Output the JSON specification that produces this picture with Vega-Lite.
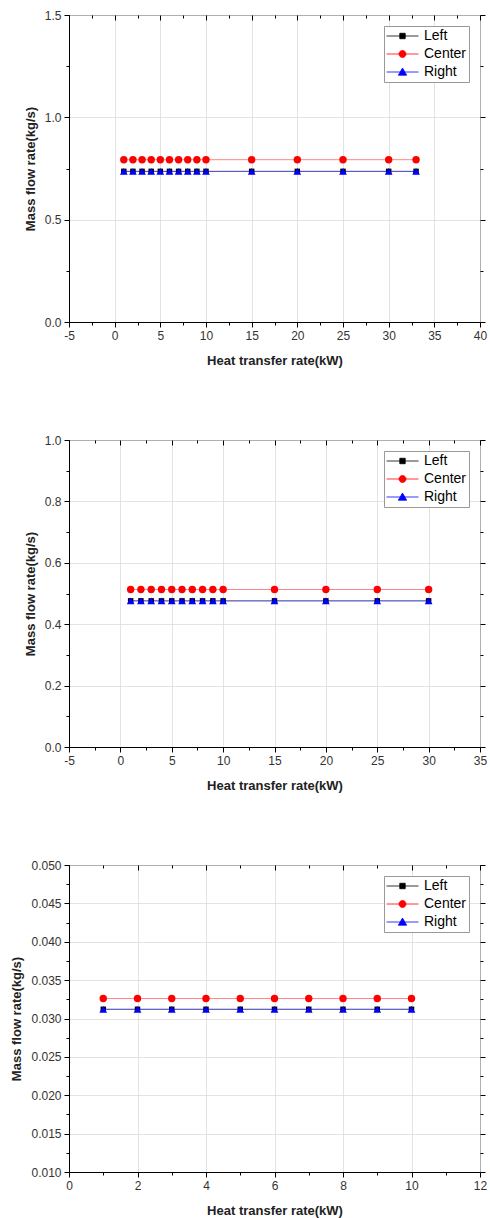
{
  "$schema": "https://vega.github.io/schema/vega-lite/v6.json",
  "background": "white",
  "padding": {"left": 10, "top": 8, "right": 8, "bottom": 0},
  "spacing": 65,
  "config": {
    "font": "Liberation Sans",
    "view": {"stroke": "black", "strokeWidth": 1},
    "axis": {
      "domainColor": "black", "tickColor": "black", "labelColor": "#333",
      "labelFontSize": 12, "titleFontSize": 13, "titleFontWeight": "bold", "titleColor": "#222",
      "gridColor": "#dcdcdc", "gridWidth": 0.8, "labelFont": "Liberation Sans", "titleFont": "Liberation Sans"
    },
    "axisX": {"labelPadding": 3, "titlePadding": 13, "labelFlush": false},
    "axisY": {"labelPadding": 3, "titlePadding": 7},
    "legend": {
      "orient": "top-right", "offset": 11, "strokeColor": "#999", "fillColor": "white", "padding": 2,
      "labelFontSize": 14, "labelColor": "black", "labelFont": "Liberation Sans",
      "symbolSize": 1024, "rowPadding": 2, "clipHeight": 16, "labelOffset": 5, "symbolStrokeWidth": 0.8, "title": null
    }
  },
  "resolve": {"scale": {"color": "independent", "x": "independent", "y": "independent"}, "legend": {"color": "independent"}},
  "vconcat": [
    {
      "width": 411, "height": 307,
      "data": {"values": [
        {"x": 1, "y": 0.736, "series": "Left"}, {"x": 2, "y": 0.736, "series": "Left"}, {"x": 3, "y": 0.736, "series": "Left"}, {"x": 4, "y": 0.736, "series": "Left"}, {"x": 5, "y": 0.736, "series": "Left"}, {"x": 6, "y": 0.736, "series": "Left"}, {"x": 7, "y": 0.736, "series": "Left"}, {"x": 8, "y": 0.736, "series": "Left"}, {"x": 9, "y": 0.736, "series": "Left"}, {"x": 10, "y": 0.736, "series": "Left"}, {"x": 15, "y": 0.736, "series": "Left"}, {"x": 20, "y": 0.736, "series": "Left"}, {"x": 25, "y": 0.736, "series": "Left"}, {"x": 30, "y": 0.736, "series": "Left"}, {"x": 33, "y": 0.736, "series": "Left"},
        {"x": 1, "y": 0.793, "series": "Center"}, {"x": 2, "y": 0.793, "series": "Center"}, {"x": 3, "y": 0.793, "series": "Center"}, {"x": 4, "y": 0.793, "series": "Center"}, {"x": 5, "y": 0.793, "series": "Center"}, {"x": 6, "y": 0.793, "series": "Center"}, {"x": 7, "y": 0.793, "series": "Center"}, {"x": 8, "y": 0.793, "series": "Center"}, {"x": 9, "y": 0.793, "series": "Center"}, {"x": 10, "y": 0.793, "series": "Center"}, {"x": 15, "y": 0.793, "series": "Center"}, {"x": 20, "y": 0.793, "series": "Center"}, {"x": 25, "y": 0.793, "series": "Center"}, {"x": 30, "y": 0.793, "series": "Center"}, {"x": 33, "y": 0.793, "series": "Center"},
        {"x": 1, "y": 0.736, "series": "Right"}, {"x": 2, "y": 0.736, "series": "Right"}, {"x": 3, "y": 0.736, "series": "Right"}, {"x": 4, "y": 0.736, "series": "Right"}, {"x": 5, "y": 0.736, "series": "Right"}, {"x": 6, "y": 0.736, "series": "Right"}, {"x": 7, "y": 0.736, "series": "Right"}, {"x": 8, "y": 0.736, "series": "Right"}, {"x": 9, "y": 0.736, "series": "Right"}, {"x": 10, "y": 0.736, "series": "Right"}, {"x": 15, "y": 0.736, "series": "Right"}, {"x": 20, "y": 0.736, "series": "Right"}, {"x": 25, "y": 0.736, "series": "Right"}, {"x": 30, "y": 0.736, "series": "Right"}, {"x": 33, "y": 0.736, "series": "Right"}
      ]},
      "resolve": {"axis": {"x": "independent", "y": "independent"}},
      "encoding": {
        "color": {"field": "series", "type": "nominal", "scale": {"domain": ["Left", "Center", "Right"], "range": ["#000000", "#ff0000", "#0000ff"]},
          "legend": {"title": null, "encoding": {"symbols": {
            "shape": {"value": {"expr": "datum.value === 'Left' ? 'M-1,0H1M-0.17,-0.17H0.17V0.17H-0.17Z' : datum.value === 'Center' ? 'M-1,0H1M-0.22,0A0.22,0.22,0,1,1,0.22,0A0.22,0.22,0,1,1,-0.22,0Z' : 'M-1,0H1M0,-0.25L0.26,0.2H-0.26Z'"}},
            "stroke": {"value": {"expr": "datum.value === 'Left' ? '#000000' : datum.value === 'Center' ? '#ff0000' : '#0000ff'"}},
            "fill": {"value": {"expr": "datum.value === 'Left' ? '#000000' : datum.value === 'Center' ? '#ff0000' : '#0000ff'"}},
            "strokeWidth": {"value": 0.8}, "opacity": {"value": 1}}}}}
      },
      "layer": [
        {"mark": {"type": "line", "strokeWidth": 0.6, "opacity": 0.8},
         "encoding": {
           "x": {"field": "x", "type": "quantitative", "title": "Heat transfer rate(kW)",
             "scale": {"domain": [-5, 40], "nice": false, "zero": false},
             "axis": {"values": [-5, -2.5, 0, 2.5, 5, 7.5, 10, 12.5, 15, 17.5, 20, 22.5, 25, 27.5, 30, 32.5, 35, 37.5, 40],
               "labelExpr": "datum.value % 5 === 0 ? '' + datum.value : ''",
               "tickSize": {"condition": {"test": "datum.value % 5 === 0", "value": 5}, "value": 3},
               "gridOpacity": {"condition": {"test": "datum.value % 5 === 0", "value": 1}, "value": 0}}},
           "y": {"field": "y", "type": "quantitative", "title": "Mass flow rate(kg/s)",
             "scale": {"domain": [0, 1.5], "nice": false},
             "axis": {"values": [0, 0.25, 0.5, 0.75, 1, 1.25, 1.5],
               "labelExpr": "round(datum.value*100) % 50 === 0 ? format(datum.value, '.1f') : ''",
               "tickSize": {"condition": {"test": "round(datum.value*100) % 50 === 0", "value": 5}, "value": 3},
               "gridOpacity": {"condition": {"test": "round(datum.value*100) % 50 === 0", "value": 1}, "value": 0}}}
         }},
        {"transform": [{"filter": "datum.series === 'Left'"}],
         "mark": {"type": "point", "filled": true, "shape": "square", "size": 30, "opacity": 1},
         "encoding": {
           "x": {"field": "x", "type": "quantitative",
             "scale": {"domain": [-5, 40], "nice": false, "zero": false},
             "axis": {"orient": "top", "title": null, "labels": false, "grid": false, "domain": false,
               "values": [-5, -2.5, 0, 2.5, 5, 7.5, 10, 12.5, 15, 17.5, 20, 22.5, 25, 27.5, 30, 32.5, 35, 37.5, 40],
               "tickSize": {"condition": {"test": "datum.value % 5 === 0", "value": -5}, "value": -3}}},
           "y": {"field": "y", "type": "quantitative",
             "scale": {"domain": [0, 1.5], "nice": false},
             "axis": {"orient": "right", "title": null, "labels": false, "grid": false, "domain": false,
               "values": [0, 0.25, 0.5, 0.75, 1, 1.25, 1.5],
               "tickSize": {"condition": {"test": "round(datum.value*100) % 50 === 0", "value": 5}, "value": 3}}}
         }},
        {"transform": [{"filter": "datum.series === 'Center'"}],
         "mark": {"type": "point", "filled": true, "shape": "circle", "size": 55, "opacity": 1},
         "encoding": {"x": {"field": "x", "type": "quantitative", "axis": null}, "y": {"field": "y", "type": "quantitative", "axis": null}}},
        {"transform": [{"filter": "datum.series === 'Right'"}],
         "mark": {"type": "point", "filled": true, "shape": "triangle-up", "size": 60, "opacity": 1},
         "encoding": {"x": {"field": "x", "type": "quantitative", "axis": null}, "y": {"field": "y", "type": "quantitative", "axis": null}}}
      ]
    },
    {
      "width": 411, "height": 307,
      "data": {"values": [
        {"x": 1, "y": 0.476, "series": "Left"}, {"x": 2, "y": 0.476, "series": "Left"}, {"x": 3, "y": 0.476, "series": "Left"}, {"x": 4, "y": 0.476, "series": "Left"}, {"x": 5, "y": 0.476, "series": "Left"}, {"x": 6, "y": 0.476, "series": "Left"}, {"x": 7, "y": 0.476, "series": "Left"}, {"x": 8, "y": 0.476, "series": "Left"}, {"x": 9, "y": 0.476, "series": "Left"}, {"x": 10, "y": 0.476, "series": "Left"}, {"x": 15, "y": 0.476, "series": "Left"}, {"x": 20, "y": 0.476, "series": "Left"}, {"x": 25, "y": 0.476, "series": "Left"}, {"x": 30, "y": 0.476, "series": "Left"},
        {"x": 1, "y": 0.513, "series": "Center"}, {"x": 2, "y": 0.513, "series": "Center"}, {"x": 3, "y": 0.513, "series": "Center"}, {"x": 4, "y": 0.513, "series": "Center"}, {"x": 5, "y": 0.513, "series": "Center"}, {"x": 6, "y": 0.513, "series": "Center"}, {"x": 7, "y": 0.513, "series": "Center"}, {"x": 8, "y": 0.513, "series": "Center"}, {"x": 9, "y": 0.513, "series": "Center"}, {"x": 10, "y": 0.513, "series": "Center"}, {"x": 15, "y": 0.513, "series": "Center"}, {"x": 20, "y": 0.513, "series": "Center"}, {"x": 25, "y": 0.513, "series": "Center"}, {"x": 30, "y": 0.513, "series": "Center"},
        {"x": 1, "y": 0.476, "series": "Right"}, {"x": 2, "y": 0.476, "series": "Right"}, {"x": 3, "y": 0.476, "series": "Right"}, {"x": 4, "y": 0.476, "series": "Right"}, {"x": 5, "y": 0.476, "series": "Right"}, {"x": 6, "y": 0.476, "series": "Right"}, {"x": 7, "y": 0.476, "series": "Right"}, {"x": 8, "y": 0.476, "series": "Right"}, {"x": 9, "y": 0.476, "series": "Right"}, {"x": 10, "y": 0.476, "series": "Right"}, {"x": 15, "y": 0.476, "series": "Right"}, {"x": 20, "y": 0.476, "series": "Right"}, {"x": 25, "y": 0.476, "series": "Right"}, {"x": 30, "y": 0.476, "series": "Right"}
      ]},
      "resolve": {"axis": {"x": "independent", "y": "independent"}},
      "encoding": {
        "color": {"field": "series", "type": "nominal", "scale": {"domain": ["Left", "Center", "Right"], "range": ["#000000", "#ff0000", "#0000ff"]},
          "legend": {"title": null, "encoding": {"symbols": {
            "shape": {"value": {"expr": "datum.value === 'Left' ? 'M-1,0H1M-0.17,-0.17H0.17V0.17H-0.17Z' : datum.value === 'Center' ? 'M-1,0H1M-0.22,0A0.22,0.22,0,1,1,0.22,0A0.22,0.22,0,1,1,-0.22,0Z' : 'M-1,0H1M0,-0.25L0.26,0.2H-0.26Z'"}},
            "stroke": {"value": {"expr": "datum.value === 'Left' ? '#000000' : datum.value === 'Center' ? '#ff0000' : '#0000ff'"}},
            "fill": {"value": {"expr": "datum.value === 'Left' ? '#000000' : datum.value === 'Center' ? '#ff0000' : '#0000ff'"}},
            "strokeWidth": {"value": 0.8}, "opacity": {"value": 1}}}}}
      },
      "layer": [
        {"mark": {"type": "line", "strokeWidth": 0.6, "opacity": 0.8},
         "encoding": {
           "x": {"field": "x", "type": "quantitative", "title": "Heat transfer rate(kW)",
             "scale": {"domain": [-5, 35], "nice": false, "zero": false},
             "axis": {"values": [-5, -2.5, 0, 2.5, 5, 7.5, 10, 12.5, 15, 17.5, 20, 22.5, 25, 27.5, 30, 32.5, 35],
               "labelExpr": "datum.value % 5 === 0 ? '' + datum.value : ''",
               "tickSize": {"condition": {"test": "datum.value % 5 === 0", "value": 5}, "value": 3},
               "gridOpacity": {"condition": {"test": "datum.value % 5 === 0", "value": 1}, "value": 0}}},
           "y": {"field": "y", "type": "quantitative", "title": "Mass flow rate(kg/s)",
             "scale": {"domain": [0, 1], "nice": false},
             "axis": {"values": [0, 0.1, 0.2, 0.3, 0.4, 0.5, 0.6, 0.7, 0.8, 0.9, 1],
               "labelExpr": "round(datum.value*10) % 2 === 0 ? format(datum.value, '.1f') : ''",
               "tickSize": {"condition": {"test": "round(datum.value*10) % 2 === 0", "value": 5}, "value": 3},
               "gridOpacity": {"condition": {"test": "round(datum.value*10) % 2 === 0", "value": 1}, "value": 0}}}
         }},
        {"transform": [{"filter": "datum.series === 'Left'"}],
         "mark": {"type": "point", "filled": true, "shape": "square", "size": 30, "opacity": 1},
         "encoding": {
           "x": {"field": "x", "type": "quantitative",
             "scale": {"domain": [-5, 35], "nice": false, "zero": false},
             "axis": {"orient": "top", "title": null, "labels": false, "grid": false, "domain": false,
               "values": [-5, -2.5, 0, 2.5, 5, 7.5, 10, 12.5, 15, 17.5, 20, 22.5, 25, 27.5, 30, 32.5, 35],
               "tickSize": {"condition": {"test": "datum.value % 5 === 0", "value": -5}, "value": -3}}},
           "y": {"field": "y", "type": "quantitative",
             "scale": {"domain": [0, 1], "nice": false},
             "axis": {"orient": "right", "title": null, "labels": false, "grid": false, "domain": false,
               "values": [0, 0.1, 0.2, 0.3, 0.4, 0.5, 0.6, 0.7, 0.8, 0.9, 1],
               "tickSize": {"condition": {"test": "round(datum.value*10) % 2 === 0", "value": 5}, "value": 3}}}
         }},
        {"transform": [{"filter": "datum.series === 'Center'"}],
         "mark": {"type": "point", "filled": true, "shape": "circle", "size": 55, "opacity": 1},
         "encoding": {"x": {"field": "x", "type": "quantitative", "axis": null}, "y": {"field": "y", "type": "quantitative", "axis": null}}},
        {"transform": [{"filter": "datum.series === 'Right'"}],
         "mark": {"type": "point", "filled": true, "shape": "triangle-up", "size": 60, "opacity": 1},
         "encoding": {"x": {"field": "x", "type": "quantitative", "axis": null}, "y": {"field": "y", "type": "quantitative", "axis": null}}}
      ]
    },
    {
      "width": 411, "height": 307,
      "data": {"values": [
        {"x": 1, "y": 0.0312, "series": "Left"}, {"x": 2, "y": 0.0312, "series": "Left"}, {"x": 3, "y": 0.0312, "series": "Left"}, {"x": 4, "y": 0.0312, "series": "Left"}, {"x": 5, "y": 0.0312, "series": "Left"}, {"x": 6, "y": 0.0312, "series": "Left"}, {"x": 7, "y": 0.0312, "series": "Left"}, {"x": 8, "y": 0.0312, "series": "Left"}, {"x": 9, "y": 0.0312, "series": "Left"}, {"x": 10, "y": 0.0312, "series": "Left"},
        {"x": 1, "y": 0.0326, "series": "Center"}, {"x": 2, "y": 0.0326, "series": "Center"}, {"x": 3, "y": 0.0326, "series": "Center"}, {"x": 4, "y": 0.0326, "series": "Center"}, {"x": 5, "y": 0.0326, "series": "Center"}, {"x": 6, "y": 0.0326, "series": "Center"}, {"x": 7, "y": 0.0326, "series": "Center"}, {"x": 8, "y": 0.0326, "series": "Center"}, {"x": 9, "y": 0.0326, "series": "Center"}, {"x": 10, "y": 0.0326, "series": "Center"},
        {"x": 1, "y": 0.0312, "series": "Right"}, {"x": 2, "y": 0.0312, "series": "Right"}, {"x": 3, "y": 0.0312, "series": "Right"}, {"x": 4, "y": 0.0312, "series": "Right"}, {"x": 5, "y": 0.0312, "series": "Right"}, {"x": 6, "y": 0.0312, "series": "Right"}, {"x": 7, "y": 0.0312, "series": "Right"}, {"x": 8, "y": 0.0312, "series": "Right"}, {"x": 9, "y": 0.0312, "series": "Right"}, {"x": 10, "y": 0.0312, "series": "Right"}
      ]},
      "resolve": {"axis": {"x": "independent", "y": "independent"}},
      "encoding": {
        "color": {"field": "series", "type": "nominal", "scale": {"domain": ["Left", "Center", "Right"], "range": ["#000000", "#ff0000", "#0000ff"]},
          "legend": {"title": null, "encoding": {"symbols": {
            "shape": {"value": {"expr": "datum.value === 'Left' ? 'M-1,0H1M-0.17,-0.17H0.17V0.17H-0.17Z' : datum.value === 'Center' ? 'M-1,0H1M-0.22,0A0.22,0.22,0,1,1,0.22,0A0.22,0.22,0,1,1,-0.22,0Z' : 'M-1,0H1M0,-0.25L0.26,0.2H-0.26Z'"}},
            "stroke": {"value": {"expr": "datum.value === 'Left' ? '#000000' : datum.value === 'Center' ? '#ff0000' : '#0000ff'"}},
            "fill": {"value": {"expr": "datum.value === 'Left' ? '#000000' : datum.value === 'Center' ? '#ff0000' : '#0000ff'"}},
            "strokeWidth": {"value": 0.8}, "opacity": {"value": 1}}}}}
      },
      "layer": [
        {"mark": {"type": "line", "strokeWidth": 0.6, "opacity": 0.8},
         "encoding": {
           "x": {"field": "x", "type": "quantitative", "title": "Heat transfer rate(kW)",
             "scale": {"domain": [0, 12], "nice": false, "zero": false},
             "axis": {"values": [0, 1, 2, 3, 4, 5, 6, 7, 8, 9, 10, 11, 12],
               "labelExpr": "datum.value % 2 === 0 ? '' + datum.value : ''",
               "tickSize": {"condition": {"test": "datum.value % 2 === 0", "value": 5}, "value": 3},
               "gridOpacity": {"condition": {"test": "datum.value % 2 === 0", "value": 1}, "value": 0}}},
           "y": {"field": "y", "type": "quantitative", "title": "Mass flow rate(kg/s)",
             "scale": {"domain": [0.01, 0.05], "nice": false, "zero": false},
             "axis": {"values": [0.01, 0.0125, 0.015, 0.0175, 0.02, 0.0225, 0.025, 0.0275, 0.03, 0.0325, 0.035, 0.0375, 0.04, 0.0425, 0.045, 0.0475, 0.05],
               "labelExpr": "round(datum.value*10000) % 50 === 0 ? format(datum.value, '.3f') : ''",
               "tickSize": {"condition": {"test": "round(datum.value*10000) % 50 === 0", "value": 5}, "value": 3},
               "gridOpacity": {"condition": {"test": "round(datum.value*10000) % 50 === 0", "value": 1}, "value": 0}}}
         }},
        {"transform": [{"filter": "datum.series === 'Left'"}],
         "mark": {"type": "point", "filled": true, "shape": "square", "size": 30, "opacity": 1},
         "encoding": {
           "x": {"field": "x", "type": "quantitative",
             "scale": {"domain": [0, 12], "nice": false, "zero": false},
             "axis": {"orient": "top", "title": null, "labels": false, "grid": false, "domain": false,
               "values": [0, 1, 2, 3, 4, 5, 6, 7, 8, 9, 10, 11, 12],
               "tickSize": {"condition": {"test": "datum.value % 2 === 0", "value": -5}, "value": -3}}},
           "y": {"field": "y", "type": "quantitative",
             "scale": {"domain": [0.01, 0.05], "nice": false, "zero": false},
             "axis": {"orient": "right", "title": null, "labels": false, "grid": false, "domain": false,
               "values": [0.01, 0.0125, 0.015, 0.0175, 0.02, 0.0225, 0.025, 0.0275, 0.03, 0.0325, 0.035, 0.0375, 0.04, 0.0425, 0.045, 0.0475, 0.05],
               "tickSize": {"condition": {"test": "round(datum.value*10000) % 50 === 0", "value": 5}, "value": 3}}}
         }},
        {"transform": [{"filter": "datum.series === 'Center'"}],
         "mark": {"type": "point", "filled": true, "shape": "circle", "size": 55, "opacity": 1},
         "encoding": {"x": {"field": "x", "type": "quantitative", "axis": null}, "y": {"field": "y", "type": "quantitative", "axis": null}}},
        {"transform": [{"filter": "datum.series === 'Right'"}],
         "mark": {"type": "point", "filled": true, "shape": "triangle-up", "size": 60, "opacity": 1},
         "encoding": {"x": {"field": "x", "type": "quantitative", "axis": null}, "y": {"field": "y", "type": "quantitative", "axis": null}}}
      ]
    }
  ]
}
